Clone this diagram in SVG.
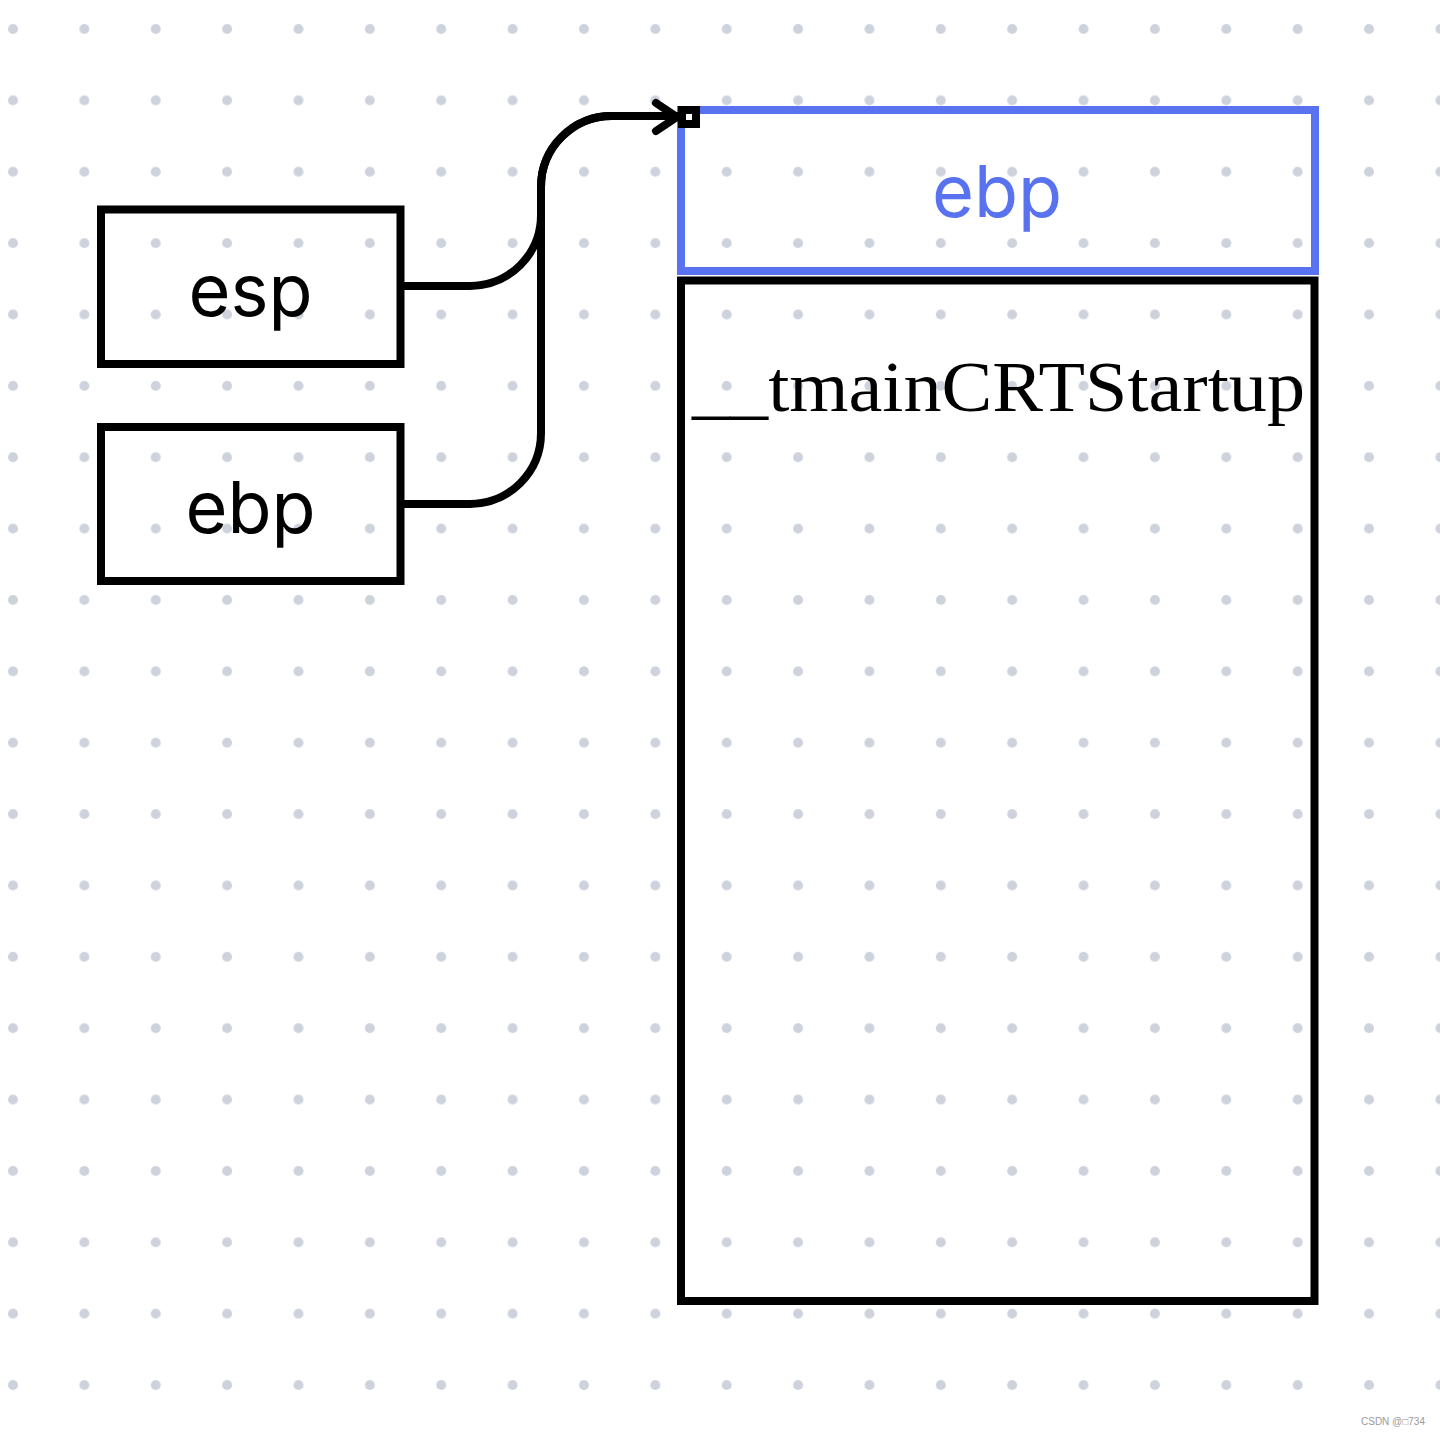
<svg xmlns="http://www.w3.org/2000/svg" width="1440" height="1435" viewBox="0 0 1440 1435">
  <defs>
    <pattern id="dots" patternUnits="userSpaceOnUse" x="-22.685" y="-6.685" width="71.37" height="71.37">
      <circle cx="35.685" cy="35.685" r="5" fill="#cdd2dc"/>
    </pattern>
    <style>
      .box { fill: none; stroke: #000; stroke-width: 8; }
      .blue { fill: none; stroke: #5872f0; stroke-width: 8; }
      .lbl { font-family: Inter, "Liberation Sans", sans-serif; font-size: 72px; text-anchor: middle; fill: #000; }
      .conn { fill: none; stroke: #000; stroke-width: 8; stroke-linecap: round; stroke-linejoin: round; }
    </style>
  </defs>
  <rect width="1440" height="1435" fill="#ffffff"/>
  <rect width="1440" height="1435" fill="url(#dots)"/>

  <g id="node-esp">
    <rect class="box" x="101" y="209.5" width="299.5" height="154.5"/>
    <text class="lbl" x="250.5" y="316">esp</text>
  </g>

  <g id="node-ebp">
    <rect class="box" x="101" y="427" width="299.5" height="154"/>
    <text class="lbl" x="250.5" y="533">ebp</text>
  </g>

  <g id="node-frame-ebp">
    <rect class="blue" x="681" y="110" width="634" height="161"/>
    <text class="lbl" x="997" y="217" style="fill:#5872f0">ebp</text>
  </g>

  <g id="node-frame-body">
    <rect class="box" x="681" y="280.5" width="633.5" height="1020.5"/>
    <text x="692" y="411" font-family="'Liberation Serif', 'DejaVu Serif', serif" font-size="72" fill="#000" textLength="613" lengthAdjust="spacingAndGlyphs">__tmainCRTStartup</text>
  </g>

  <g id="connectors">
    <path class="conn" d="M404,286 H470 A71,71 0 0 0 541,215 V187 A71,71 0 0 1 612,116 H676"/>
    <path class="conn" d="M404,504 H470 A71,71 0 0 0 541,433 V187 A71,71 0 0 1 612,116 H676"/>
    <path class="conn" d="M656,103 L677,117 L656,131"/>
    <rect x="682" y="110" width="14" height="14" fill="#fff" stroke="#000" stroke-width="8"/>
  </g>

  <text x="1425" y="1425" font-family="'Liberation Sans', 'Noto Sans CJK SC', sans-serif" font-size="10" fill="#9a9a9a" text-anchor="end">CSDN @□734</text>
</svg>
